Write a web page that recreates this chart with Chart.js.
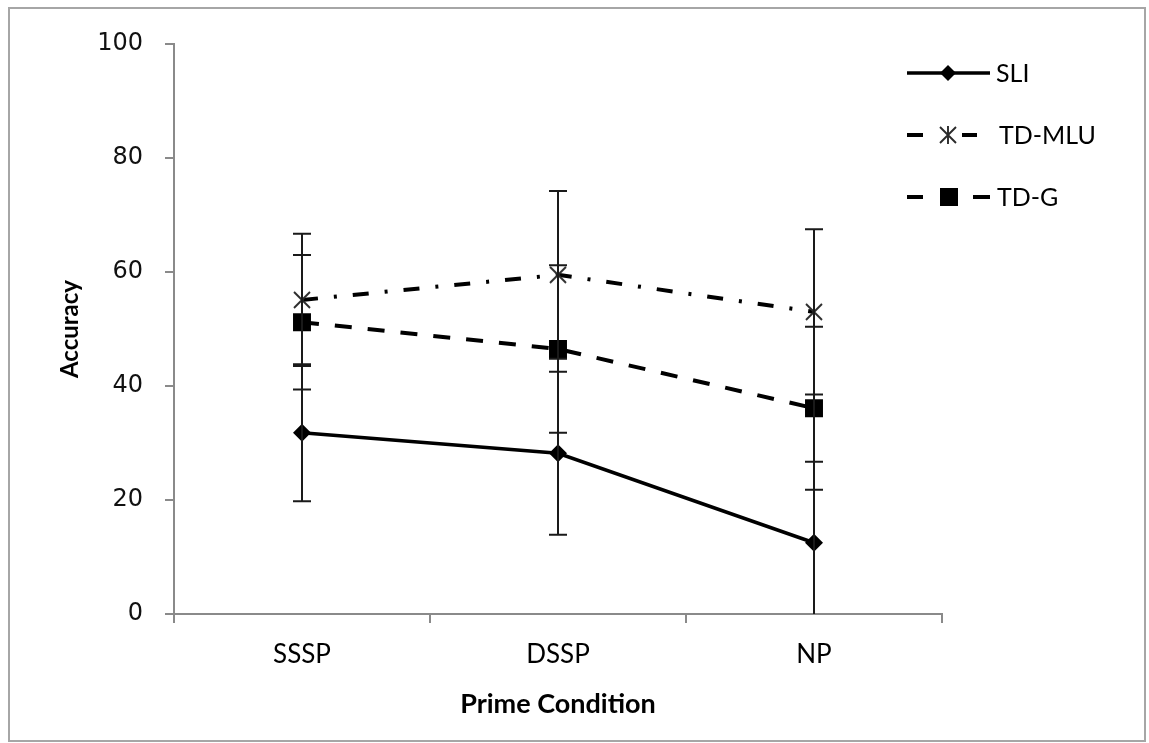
<!DOCTYPE html>
<html>
<head>
<meta charset="utf-8">
<script src="https://cdn.jsdelivr.net/npm/chart.js@4.4.0/dist/chart.umd.min.js"></script>
<style>
  html, body { margin: 0; padding: 0; background: #ffffff; }
  #wrap { width: 1149px; height: 743px; }
</style>
</head>
<body>
<div id="wrap"><canvas id="c" width="1149" height="743"></canvas></div>
<script>
// ---- data ----
const categories = ['SSSP', 'DSSP', 'NP'];
const yTicks = [0, 20, 40, 60, 80, 100];
const seriesNames = ['SLI', 'TD-MLU', 'TD-G'];
const sliValues = [31.8, 28.2, 12.5];
const sliErrors = [12.0, 14.3, 14.2];
const mluValues = [55.1, 59.5, 53.0];
const mluErrors = [11.6, 14.7, 14.5];
const tdgValues = [51.2, 46.5, 36.1];
const tdgErrors = [11.8, 14.7, 14.3];
const xTitle = 'Prime Condition';
const yTitle = 'Accuracy';

// ---- asterisk marker ----
function makeStar(size, color, lw) {
  const c = document.createElement('canvas');
  c.width = size; c.height = size;
  const g = c.getContext('2d');
  g.strokeStyle = color; g.lineWidth = lw; g.lineCap = 'butt';
  const m = 2, h = size / 2;
  g.beginPath();
  g.moveTo(m, m); g.lineTo(size - m, size - m);
  g.moveTo(size - m, m); g.lineTo(m, size - m);
  g.moveTo(h, 1); g.lineTo(h, size - 1);
  g.stroke();
  return c;
}
const starImg = makeStar(20, '#2a2a2a', 1.9);

const errMap = [sliErrors, mluErrors, tdgErrors];

const bgPlugin = {
  id: 'bg',
  beforeDraw(chart) {
    const ctx = chart.ctx;
    ctx.save();
    ctx.fillStyle = '#ffffff';
    ctx.fillRect(0, 0, chart.width, chart.height);
    ctx.strokeStyle = '#a6a6a6';
    ctx.lineWidth = 2;
    ctx.strokeRect(9, 8, 1136, 733);
    ctx.restore();
  }
};

const errorBarPlugin = {
  id: 'errbars',
  afterDatasetsDraw(chart) {
    const ctx = chart.ctx;
    const xs = chart.scales.x, ys = chart.scales.y;
    ctx.save();
    ctx.strokeStyle = '#1a1a1a';
    ctx.lineWidth = 2;
    chart.data.datasets.forEach((ds, di) => {
      const errs = errMap[di];
      ds.data.forEach((v, i) => {
        const x = xs.getPixelForValue(i);
        const lo = Math.max(v - errs[i], ys.min);
        const hi = Math.min(v + errs[i], ys.max);
        const yl = ys.getPixelForValue(lo), yh = ys.getPixelForValue(hi);
        ctx.beginPath();
        ctx.moveTo(x, yl); ctx.lineTo(x, yh);
        if (v + errs[i] <= ys.max) { ctx.moveTo(x - 9, yh); ctx.lineTo(x + 9, yh); }
        if (v - errs[i] >= ys.min) { ctx.moveTo(x - 9, yl); ctx.lineTo(x + 9, yl); }
        ctx.stroke();
      });
    });
    ctx.restore();
  }
};

const legendPlugin = {
  id: 'customLegend',
  afterDraw(chart) {
    const ctx = chart.ctx;
    const ds = chart.data.datasets;
    ctx.save();
    ctx.font = '25px Lato, "Open Sans", sans-serif';
    ctx.fillStyle = '#000000';
    ctx.textBaseline = 'middle';
    ctx.strokeStyle = '#000000';
    // SLI
    let y = 73;
    ctx.lineWidth = 3.5;
    ctx.beginPath(); ctx.moveTo(907, y); ctx.lineTo(990, y); ctx.stroke();
    ctx.beginPath();
    ctx.moveTo(948, y - 8); ctx.lineTo(956, y); ctx.lineTo(948, y + 8); ctx.lineTo(940, y); ctx.closePath();
    ctx.fill();
    ctx.fillText(ds[0].label, 996, y + 1);
    // TD-MLU
    y = 135;
    ctx.lineWidth = 4;
    ctx.beginPath(); ctx.moveTo(907, y); ctx.lineTo(923, y); ctx.moveTo(962, y); ctx.lineTo(977, y); ctx.stroke();
    ctx.drawImage(starImg, 948 - 10, y - 10);
    ctx.fillText(ds[1].label, 999, y + 1);
    // TD-G
    y = 197;
    ctx.beginPath(); ctx.moveTo(907, y); ctx.lineTo(923, y); ctx.moveTo(973, y); ctx.lineTo(990, y); ctx.stroke();
    ctx.fillRect(940, y - 9, 18, 18);
    ctx.fillText(ds[2].label, 997, y + 1);
    ctx.restore();
  }
};

const axisColor = '#8a8a8a';

new Chart(document.getElementById('c'), {
  type: 'line',
  data: {
    labels: categories,
    datasets: [
      {
        label: seriesNames[0], data: sliValues,
        borderColor: '#000000', backgroundColor: '#000000', borderWidth: 3.5,
        pointStyle: 'rectRot', pointRadius: 9, pointBackgroundColor: '#000000', pointBorderColor: '#000000', pointBorderWidth: 0,
        tension: 0
      },
      {
        label: seriesNames[1], data: mluValues,
        borderColor: '#000000', backgroundColor: '#000000', borderWidth: 4,
        borderDash: [16, 16, 3, 16],
        pointStyle: starImg, pointRadius: 10,
        tension: 0
      },
      {
        label: seriesNames[2], data: tdgValues,
        borderColor: '#000000', backgroundColor: '#000000', borderWidth: 4,
        borderDash: [17, 16],
        pointStyle: 'rect', pointRadius: 12.7, pointBackgroundColor: '#000000', pointBorderColor: '#000000', pointBorderWidth: 0,
        tension: 0
      }
    ]
  },
  options: {
    responsive: false,
    devicePixelRatio: 1,
    animation: false,
    layout: { padding: { left: 0, top: 44, right: 207, bottom: 0 } },
    plugins: { legend: { display: false }, tooltip: { enabled: false } },
    scales: {
      x: {
        type: 'category',
        offset: true,
        grid: { display: true, offset: true, drawOnChartArea: false, drawTicks: true, tickLength: 9, color: axisColor, lineWidth: 2 },
        border: { display: true, color: axisColor, width: 2 },
        ticks: { color: '#000000', font: { family: 'Lato, "Open Sans", sans-serif', size: 26 }, padding: 16 },
        title: { display: true, text: xTitle, color: '#000000', font: { family: 'Lato, "Open Sans", sans-serif', size: 27, weight: 'bold' }, padding: { top: 0, bottom: 23 } },
        afterFit(scale) { scale.height = 129; }
      },
      y: {
        min: 0, max: 100,
        afterBuildTicks(scale) { scale.ticks = yTicks.map(v => ({ value: v })); },
        grid: { display: true, drawOnChartArea: false, drawTicks: true, tickLength: 9, color: axisColor, lineWidth: 2 },
        border: { display: true, color: axisColor, width: 2 },
        ticks: { color: '#111111', font: { family: '"DejaVu Sans", sans-serif', size: 24 }, padding: 22 },
        title: { display: true, text: yTitle, color: '#000000', font: { family: 'Lato, "Open Sans", sans-serif', size: 24, weight: 'bold' }, padding: { top: 56, bottom: 0 } },
        afterFit(scale) { scale.width = 174; }
      }
    }
  },
  plugins: [bgPlugin, errorBarPlugin, legendPlugin]
});
</script>
</body>
</html>
